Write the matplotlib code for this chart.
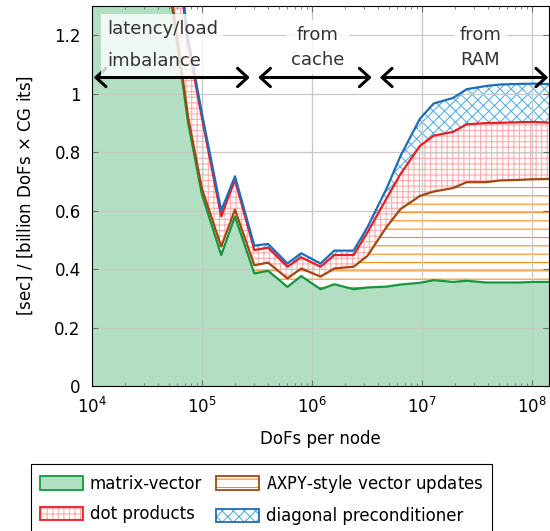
import matplotlib
matplotlib.use('Agg')  # no display
import matplotlib.pyplot as plt
from matplotlib.patches import Patch
from matplotlib.ticker import FuncFormatter
import numpy as np

# problem size per node
dofs = [9.375e3, 1.25e4, 1.875e4, 2.5e4, 3.75e4, 5e4, 7.5e4, 1e5,
        1.5e5, 2e5, 3e5, 4e5, 6e5, 8e5, 1.2e6, 1.6e6, 2.4e6, 3.2e6,
        4.8e6, 6.4e6, 9.6e6, 1.28e7, 1.92e7, 2.56e7, 3.84e7, 5.12e7,
        7.68e7, 1.024e8, 1.536e8]

# time per component, stacked in this order
matvec = [6.0, 4.8, 3.6, 2.8, 2.0, 1.38, 0.90, 0.656,
          0.448, 0.58, 0.385, 0.394, 0.339, 0.376, 0.331, 0.348, 0.331, 0.337,
          0.340, 0.347, 0.353, 0.362, 0.356, 0.360, 0.354, 0.354,
          0.354, 0.356, 0.356]
axpy = [0.02, 0.02, 0.02, 0.02, 0.02, 0.02, 0.02, 0.02,
        0.029, 0.023, 0.028, 0.028, 0.029, 0.026, 0.043, 0.054, 0.077, 0.108,
        0.205, 0.258, 0.297, 0.303, 0.321, 0.337, 0.343, 0.349,
        0.351, 0.351, 0.352]
dot = [0.6, 0.55, 0.45, 0.4, 0.35, 0.30, 0.25, 0.242,
       0.103, 0.102, 0.052, 0.051, 0.040, 0.038, 0.034, 0.046, 0.040, 0.080,
       0.098, 0.120, 0.171, 0.191, 0.192, 0.198, 0.202, 0.197,
       0.197, 0.196, 0.192]
precond = [0.02, 0.02, 0.02, 0.02, 0.02, 0.02, 0.02, 0.015,
           0.02, 0.012, 0.015, 0.013, 0.011, 0.014, 0.011, 0.015, 0.015, 0.018,
           0.034, 0.062, 0.093, 0.110, 0.116, 0.120, 0.127, 0.131,
           0.131, 0.131, 0.132]

labels = [r'matrix-vector', r'$\mathtt{AXPY}$-style vector updates',
          r'dot products', r'diagonal preconditioner']

plt.rcParams['font.family'] = ['DejaVu Sans']
plt.rcParams['font.size'] = 12
plt.rcParams['hatch.linewidth'] = 0.8

green_fill = '#b2dfc2'
green = '#15963f'
orange = '#ff8a1c'
brown = '#a3460f'
pink = '#ffadad'
red = '#ec1c24'
lightblue = '#5ab2e6'
blue = '#1f6cb8'

l1 = np.array(matvec)
l2 = l1 + np.array(axpy)
l3 = l2 + np.array(dot)
l4 = l3 + np.array(precond)

fig = plt.figure(figsize=(5.5, 5.31), dpi=100)
ax = fig.add_axes([0.167, 0.273, 0.831, 0.716])

ax.fill_between(dofs, 0, l1, facecolor=green_fill, lw=0)
ax.fill_between(dofs, l1, l2, facecolor='none', edgecolor=orange, hatch='--', lw=0)
ax.fill_between(dofs, l2, l3, facecolor='none', edgecolor=pink, hatch='+++', lw=0)
ax.fill_between(dofs, l3, l4, facecolor='none', edgecolor=lightblue, hatch='xxx', lw=0)

ax.plot(dofs, l1, color=green, lw=1.6)
ax.plot(dofs, l2, color=brown, lw=1.6)
ax.plot(dofs, l3, color=red, lw=1.6)
ax.plot(dofs, l4, color=blue, lw=1.6)

ax.set_xscale('log')
ax.set_xlim(1e4, 10**8.155)
ax.set_ylim(0, 1.3)
ax.set_yticks([0, 0.2, 0.4, 0.6, 0.8, 1.0, 1.2])
ax.yaxis.set_major_formatter(FuncFormatter(lambda v, p: '%g' % v))
ax.set_axisbelow('line')
ax.grid(True, which='major', color='#c8c8c8', lw=0.9)
ax.tick_params(which='both', direction='in', top=True, right=True, color='#707070')
ax.tick_params(which='major', length=4.5)
ax.tick_params(which='minor', length=2.5)
ax.tick_params(axis='x', which='major', pad=8)
ax.tick_params(axis='y', which='major', pad=8)

ax.set_xlabel('DoFs per node', labelpad=9)
ax.set_ylabel(r'[sec] / [billion DoFs $\times$ CG its]', labelpad=14)

# regime arrows
arrow_y = 1.055
spans = [(1.04e4, 2.73e5), (3.25e5, 3.5e6), (4.15e6, 1.41e8)]
for x0, x1 in spans:
    ax.annotate('', xy=(x1, arrow_y), xytext=(x0, arrow_y),
                arrowprops=dict(arrowstyle='<->,head_length=0.6,head_width=0.55',
                                lw=2.2, color='black', shrinkA=0, shrinkB=0))

box = dict(facecolor='white', alpha=0.8, edgecolor='none', pad=4)
ax.text(1.37e4, 1.166, 'latency/load\nimbalance', ha='left', va='center',
        fontsize=13, color='#333333', linespacing=2.05, bbox=box)
ax.text(1.135e6, 1.158, 'from\ncache', ha='center', va='center',
        fontsize=13, color='#333333', linespacing=1.5, bbox=box)
ax.text(3.4e7, 1.158, 'from\nRAM', ha='center', va='center',
        fontsize=13, color='#333333', linespacing=1.5, bbox=box)

handles = [
    Patch(facecolor=green_fill, edgecolor=green, lw=1.3),
    (Patch(facecolor='white', edgecolor=orange, hatch='--', lw=0),
     Patch(facecolor='none', edgecolor=brown, lw=1.3)),
    (Patch(facecolor='white', edgecolor=pink, hatch='+++', lw=0),
     Patch(facecolor='none', edgecolor=red, lw=1.3)),
    (Patch(facecolor='white', edgecolor=lightblue, hatch='xxx', lw=0),
     Patch(facecolor='none', edgecolor=blue, lw=1.3)),
]
# two columns, filled row by row
order = [0, 2, 1, 3]
leg = fig.legend([handles[i] for i in order], [labels[i] for i in order],
                 ncol=2, loc='upper left', bbox_to_anchor=(0.056, 0.127),
                 borderaxespad=0, fancybox=False, edgecolor='black', framealpha=1,
                 handlelength=2.6, handleheight=0.9, handletextpad=0.4,
                 columnspacing=0.8, borderpad=0.55, labelspacing=0.75)
leg.get_frame().set_linewidth(0.8)

plt.savefig('out.png', dpi=100)
plt.close()
